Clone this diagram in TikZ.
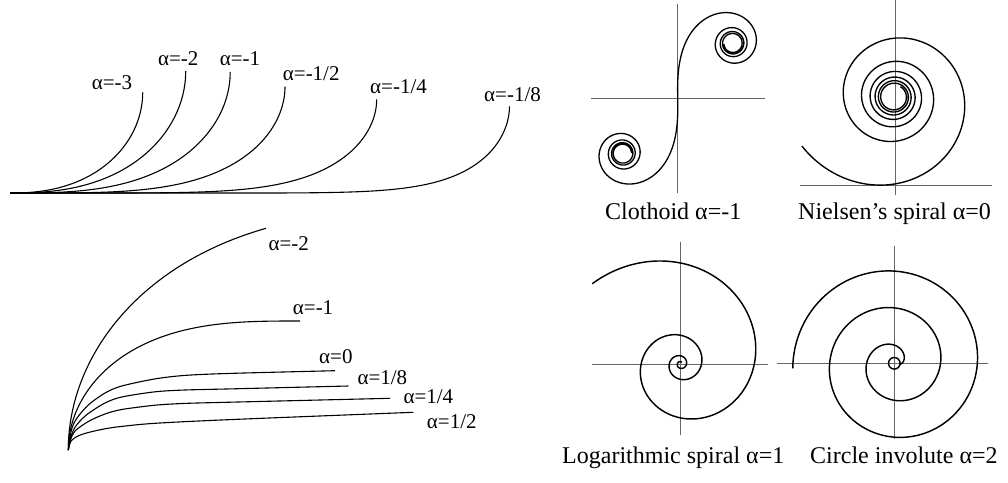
\documentclass[tikz,border=0pt]{standalone}
\usepackage{fontspec}
\setmainfont{Liberation Serif}
\tikzset{
  lac/.style={line width=1.1pt, black, line join=round},
  spiral/.style={line width=1.45pt, black, line join=round},
  axisline/.style={line width=0.9pt, black!60},
  lbl/.style={inner sep=0pt, anchor=base west, font=\fontsize{21}{24}\selectfont},
  captxt/.style={inner sep=0pt, anchor=base west, font=\fontsize{24}{28}\selectfont},
  declare function={
    frf(\t)=(1+0.926*\t)/(2+1.792*\t+3.104*\t*\t);
    frg(\t)=1/(2+4.142*\t+3.492*\t*\t+6.670*\t*\t*\t);
    frC(\t)=0.5+frf(\t)*sin(90*\t*\t)-frg(\t)*cos(90*\t*\t);
    frS(\t)=0.5-frf(\t)*cos(90*\t*\t)-frg(\t)*sin(90*\t*\t);
  }
}
% numeric log-aesthetic curve: tangent angle Theta*u^m, u in [u0,1]
\newcommand\lacgen[4]{%
  \xdef\lacX{0}\xdef\lacY{0}\xdef\lacpts{(0,0)}%
  \foreach \lacI in {1,...,#3}{%
    \pgfmathsetmacro\lacU{#4+(1-#4)*(\lacI-0.5)/#3}%
    \pgfmathsetmacro\lacT{#2*(\lacU)^(#1)}%
    \pgfmathsetmacro\lacNX{\lacX+cos(\lacT)/#3}%
    \pgfmathsetmacro\lacNY{\lacY+sin(\lacT)/#3}%
    \xdef\lacX{\lacNX}\xdef\lacY{\lacNY}%
    \xdef\lacpts{\lacpts -- (\lacNX,\lacNY)}%
  }%
}
% draw generated curve: start (#1,#2), signed extent #3 (x) and #4 (y, screen)
\newcommand\lacdraw[4]{%
  \pgfmathsetmacro\lacSX{(#3)/\lacX}%
  \pgfmathsetmacro\lacSY{(#4)/\lacY}%
  \edef\lactmp{\noexpand\draw[lac, shift={(#1,#2)}, xscale=\lacSX, yscale=\lacSY] \lacpts;}%
  \lactmp
}
\begin{document}
\begin{tikzpicture}[x=1pt,y=-1pt]
\useasboundingbox (0,0) rectangle (1008,482);

% ---------- top-left: alpha < 0 ----------
\lacgen{1.33333}{90}{100}{0}\lacdraw{10}{193}{132.7}{-100.7}
\lacgen{1.5}{90}{100}{0}\lacdraw{10}{193}{175.7}{-121.8}
\lacgen{2}{90}{100}{0}\lacdraw{10}{193}{220.2}{-120.8}
\lacgen{3}{90}{100}{0}\lacdraw{10}{193}{275}{-106.3}
\lacgen{5}{90}{120}{0}\lacdraw{10}{193}{366.7}{-93.7}
\lacgen{9}{90}{160}{0}\lacdraw{10}{193}{499.5}{-86.7}

\node[lbl] (t3) at (91.7,89.3) {α=-3};
\node[lbl] (t2) at (157.9,65) {α=-2};
\node[lbl] (t1) at (219.6,65) {α=-1};
\node[lbl] (th) at (282.7,80.7) {α=-1/2};
\node[lbl] (tq) at (370,93.3) {α=-1/4};
\node[lbl] (te) at (484,101) {α=-1/8};

% ---------- bottom-left ----------
\lacgen{1.5}{90}{100}{0.33}\lacdraw{266}{228.3}{-197.7}{221.7}
\lacgen{2}{90}{100}{0}\lacdraw{300}{321}{-231.7}{129}
\draw[lac] plot[smooth] coordinates {(68.3,450) (69.5,440) (72,428) (77,418) (88.3,405) (105,393) (121.7,386) (155,378.9) (185,375.4) (230,373.4) (335,370.7)};
\draw[lac] plot[smooth] coordinates {(68.3,450) (70,440) (74,429) (80,421) (88.3,413.5) (105,403) (121.7,397) (155,391.8) (185,390) (230,388.9) (348.3,386)};
\draw[lac] plot[smooth] coordinates {(68.3,450) (70.5,440) (75,431) (88.3,421.5) (105,414) (121.7,409.5) (155,405.2) (185,403.4) (230,402.2) (390,398.3)};
\draw[lac] plot[smooth] coordinates {(68.3,450) (71,441) (78,436) (88.3,432.5) (105,428.8) (121.7,426.4) (155,423.3) (230,419.6) (413.3,412.3)};

\node[lbl] (b2) at (268.3,250) {α=-2};
\node[lbl] (b1) at (292.7,314.5) {α=-1};
\node[lbl] (b0) at (319,363) {α=0};
\node[lbl] (be) at (357.3,384.5) {α=1/8};
\node[lbl] (bq) at (403.3,403) {α=1/4};
\node[lbl] (bh) at (426.7,428.5) {α=1/2};

% ---------- Clothoid ----------
\draw[axisline] (677.7,4) -- (677.7,193);
\draw[axisline] (591,98.3) -- (765,98.3);
\draw[spiral, line width=1.3pt] plot[domain=0:4.0, samples=500, variable=\t] ({677.7+110*frS(\t)}, {98.3-110*frC(\t)});
\draw[spiral, line width=1.3pt] plot[domain=0:4.0, samples=500, variable=\t] ({677.7-110*frS(\t)}, {98.3+110*frC(\t)});
\node[captxt] (cc) at (605,219) {Clothoid α=-1};

% ---------- Nielsen's spiral ----------
\draw[axisline] (895,0) -- (895,195);
\draw[axisline] (800,185) -- (992,185);
\draw[spiral, line width=1.35pt] plot[domain=3.63:45, samples=800, variable=\p] ({894+568/(\p+1.81)*cos(\p r)}, {97-568/(\p+1.81)*sin(\p r)});
\node[captxt] (cn) at (798,219) {Nielsen’s spiral α=0};

% ---------- Logarithmic spiral ----------
\draw[axisline] (680,241.7) -- (680,435);
\draw[axisline] (591.7,364) -- (767.7,364);
\draw[spiral] plot[domain=-0.833:19.6, samples=600, variable=\p] ({680.5+101*exp(-0.2*\p)*cos(90-deg(\p))}, {364-101*exp(-0.2*\p)*sin(90-deg(\p))});
\node[captxt] (cl) at (562,463) {Logarithmic spiral α=1};

% ---------- Circle involute ----------
\draw[axisline] (894.3,245.7) -- (894.3,439.3);
\draw[axisline] (777,363.3) -- (988.3,363.3);
\draw[spiral] plot[domain=0:17.42, samples=600, variable=\t] ({894.3+5.83*(cos(deg(\t)-8)+\t*sin(deg(\t)-8))}, {363.3-5.83*(sin(deg(\t)-8)-\t*cos(deg(\t)-8))});
\draw[spiral] (894.3,363.3) circle[radius=5.8pt];
\node[captxt] (ci) at (810,463) {Circle involute α=2};
\end{tikzpicture}
\end{document}
